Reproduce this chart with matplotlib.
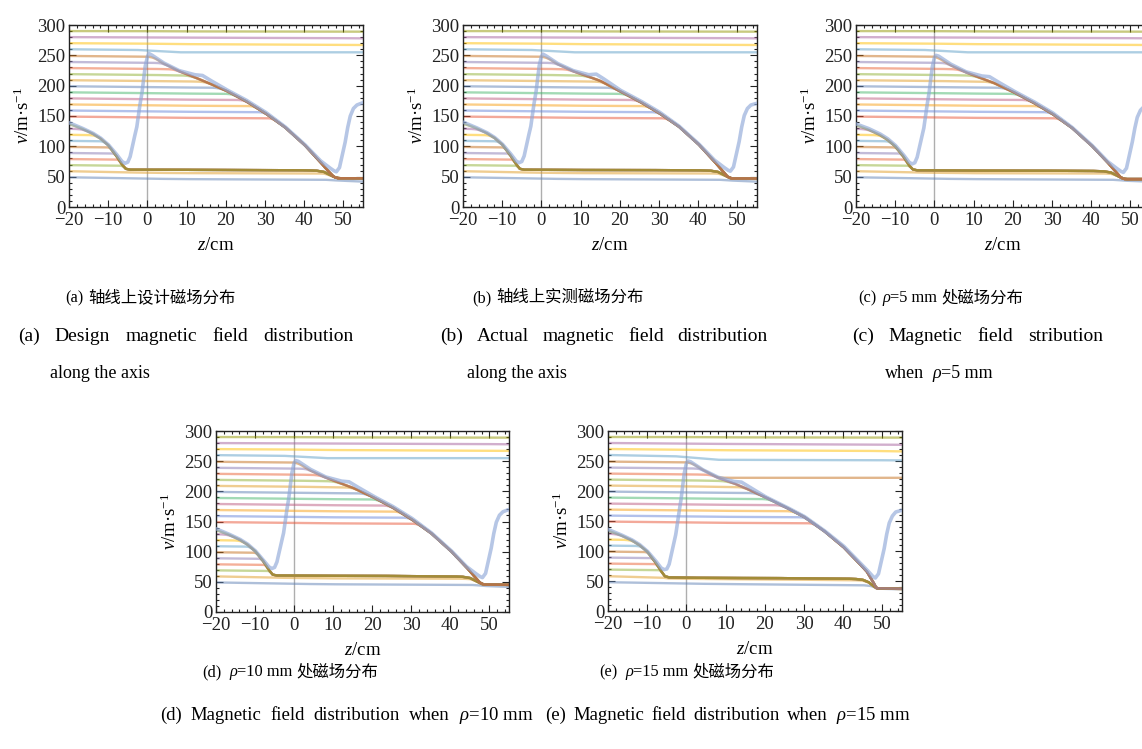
import numpy as np
import matplotlib
matplotlib.use("Agg")
import matplotlib.pyplot as plt
from matplotlib.ticker import MultipleLocator

plt.rcParams['font.family'] = ['Liberation Serif', 'Noto Sans CJK SC', 'DejaVu Sans']
plt.rcParams['mathtext.fontset'] = 'custom'
plt.rcParams['mathtext.rm'] = 'Liberation Serif'
plt.rcParams['mathtext.it'] = 'Liberation Serif:italic'

# ---------------- data ----------------
V0 = [50, 60, 70, 80, 90, 100, 110, 120, 130, 140, 150, 160, 170, 180, 190,
      200, 210, 220, 230, 240, 250, 260, 270, 280, 290]
LINE_COLORS = ['#5E81B5', '#E19C24', '#8FB032', '#EB6235', '#8778B3',
               '#C56E1A', '#5D9EC7', '#FFBF00', '#A5609D', '#929600',
               '#E95536', '#6685D9', '#F89F13', '#BC5B80', '#47B66D',
               '#5E81B5', '#E19C24', '#8FB032', '#EB6235', '#8778B3',
               '#C56E1A', '#5D9EC7', '#FFBF00', '#A5609D', '#929600']
FIRST_STAGE_MAX = 140   # initial speeds slowed by the first stage
CAPTURE_MAX = 250       # highest initial speed captured by the second stage

# resonance-velocity (field) profile, blue curve
PROF_Z = [-20, -17, -14, -12, -10, -8, -6.5, -5.7, -5, -4.4, -3.5, -2.7, -2, -1.4, -0.6,
          0, 0.4, 1, 4, 8, 12, 14, 15.5, 20, 25, 30, 35, 40, 44, 46, 47.5, 48.2, 49,
          49.7, 50.4, 51, 51.7, 52.5, 53.4, 55]
PROF_A = [139, 131, 122, 114, 103, 88, 75, 72, 74, 83, 110, 132, 165, 187, 231,
          248, 253, 251, 238, 225, 218, 217, 211, 194, 177, 157, 133, 104, 77, 67, 60, 58, 65,
          85, 105, 128, 149, 162, 168, 172]
PROF_B = [140, 132, 123, 115, 104, 89, 76, 73, 75, 84, 111, 133, 166, 188, 232,
          248, 252, 250, 237, 225, 218, 219, 213, 193, 176, 157, 134, 105, 78, 68, 61, 59, 66,
          86, 106, 129, 150, 162, 168, 171]
PROF_C = [137, 130, 121, 113, 102, 87, 74, 71, 73, 82, 108, 130, 163, 186, 229,
          246, 250, 249, 236, 223, 216, 215, 209, 192, 175, 156, 132, 103, 76, 66, 59, 57, 64,
          84, 104, 126, 147, 159, 165, 169]
PROF_D = [138, 130, 121, 113, 102, 87, 75, 72, 74, 83, 109, 131, 164, 187, 230,
          247, 251, 250, 237, 224, 217, 216, 210, 193, 176, 156, 132, 103, 76, 66, 59, 57, 64,
          84, 104, 127, 148, 160, 166, 170]
PROF_E = [136, 128, 119, 111, 100, 85, 72, 69, 70, 78, 104, 128, 160, 184, 228,
          246, 250, 249, 236, 223, 216, 215, 209, 191, 175, 158, 135, 109, 82, 69, 58, 55, 62,
          82, 102, 125, 146, 158, 165, 168]

# path followed by slow atoms (first stage + plateau + end)
LOW_Z = [-20, -17, -14, -12, -10, -8, -6.5, -5.5, -4.5, 0, 10, 20, 30, 40, 43, 45, 46.5, 48, 49, 55]
LOW_A = [137, 130, 121, 113, 102, 85, 70, 63, 61.5, 61.5, 61.3, 61, 61, 60.5, 60, 58, 53, 48.5, 47.5, 47.5]
LOW_B = [138, 131, 122, 114, 103, 86, 71, 63, 61.5, 61.3, 61, 61, 60.8, 60.5, 60, 58, 53, 48, 47, 47]
LOW_C = [135, 128, 119, 111, 100, 84, 69, 62, 60.5, 60.3, 60, 60, 59.8, 59.5, 59, 57, 52, 47, 46, 46]
LOW_D = [136, 129, 120, 112, 101, 85, 70, 62, 60.5, 60.3, 60, 60, 59.5, 59, 58.5, 56.5, 51.5, 46.5, 45.5, 45]
LOW_E = [134, 127, 118, 110, 99, 82, 67, 58, 56, 55.5, 55, 55, 54.5, 54, 53.5, 52, 48, 40, 37.5, 37]

# path followed by fast captured atoms (second stage)
UP_Z = [-20, 0.0, 0.5, 2, 4, 8, 12, 15, 20, 25, 30, 35, 40, 44, 46, 47.5, 48.5, 55]
UP_A = [400, 400, 251, 245, 237, 224, 214, 206, 192, 175, 155, 132, 103, 75, 60, 50, 47.5, 47.5]
UP_B = [400, 400, 250, 244, 236, 224, 215, 208, 191, 174, 155, 133, 104, 76, 61, 50, 47, 47]
UP_C = [400, 400, 248, 242, 234, 222, 212, 205, 190, 173, 154, 131, 102, 75, 60, 49, 46, 46]
UP_D = [400, 400, 249, 243, 235, 223, 213, 206, 191, 174, 154, 131, 102, 75, 60, 49, 45.5, 45]
UP_E = [400, 400, 250, 244, 236, 222, 213, 205, 190, 174, 157, 134, 107, 80, 66, 50, 38, 37]

# slow drift of the free-flight parts (velocity loss at z nodes)
DRIFT_Z = [-20, -3, 8, 45, 55]
DRIFT_DEFAULT = [1, 2, 3, 4, 5]
DRIFT_ABCD = {50: [1, 3, 4, 5, 8], 60: [1, 3, 4, 4.5, 12], 260: [0, 1, 5, 5, 5],
              270: [0, 0.5, 1.5, 2.5, 3], 280: [0, 0.5, 1, 1.5, 2], 290: [0, 0, 0.5, 1, 1]}
DRIFT_E = {50: [2, 4, 5, 7, 12], 60: [2, 5, 6, 8, 22], 260: [0, 2, 8, 8.5, 9],
           270: [0, 1, 2, 3, 4], 280: [0, 1, 1.5, 2.5, 3], 290: [0, 0, 0.5, 1, 1]}
LOST_E = {250: 222}

X_TICKS = [-20, -10, 0, 10, 20, 30, 40, 50]
Y_TICKS = [0, 50, 100, 150, 200, 250, 300]

# captions: runs of (text, italic, gap before in px)
ROW1 = [[("(a)", False, 0), ("轴线上设计磁场分布", False, 5)],
        [("(b)", False, 0), ("轴线上实测磁场分布", False, 5)],
        [("(c)", False, 0), ("ρ", True, 6), ("=5 mm", False, 0), ("处磁场分布", False, 4)]]
ROW2 = [["(a)", "Design", "magnetic", "field", "distribution"],
        ["(b)", "Actual", "magnetic", "field", "distribution"],
        ["(c)", "Magnetic", "field", "stribution"]]
ROW3 = [[("along the axis", False, 0)],
        [("along the axis", False, 0)],
        [("when", False, 0), ("ρ", True, 8), ("=5 mm", False, 0)]]
ROW4 = [[("(d)", False, 0), ("ρ", True, 8), ("=10 mm", False, 0), ("处磁场分布", False, 4)],
        [("(e)", False, 0), ("ρ", True, 8), ("=15 mm", False, 0), ("处磁场分布", False, 4)]]
ROW5 = [["(d)", "Magnetic", "field", "distribution", "when", r"$\rho$=10 mm"],
        ["(e)", "Magnetic", "field", "distribution", "when", r"$\rho$=15 mm"]]

# ---------------- figure ----------------
W, H = 1142, 749
fig = plt.figure(figsize=(W / 100, H / 100), dpi=100)
renderer = fig.canvas.get_renderer()


def ax_at(x0, y0, x1, y1):
    return fig.add_axes([x0 / W, 1 - y1 / H, (x1 - x0) / W, (y1 - y0) / H])


def softmin(a, b, k):
    return -k * np.logaddexp(-a / k, -b / k)


def softmax(a, b, k):
    return k * np.logaddexp(a / k, b / k)


PANELS = [
    dict(box=(69, 25, 363, 207), prof=PROF_A, low=LOW_A, up=UP_A, drift=DRIFT_ABCD, lost={}),
    dict(box=(463, 25, 757, 207), prof=PROF_B, low=LOW_B, up=UP_B, drift=DRIFT_ABCD, lost={}),
    dict(box=(856, 25, 1150, 207), prof=PROF_C, low=LOW_C, up=UP_C, drift=DRIFT_ABCD, lost={}),
    dict(box=(216, 431, 509, 612), prof=PROF_D, low=LOW_D, up=UP_D, drift=DRIFT_ABCD, lost={}),
    dict(box=(608, 431, 902, 611), prof=PROF_E, low=LOW_E, up=UP_E, drift=DRIFT_E, lost=LOST_E),
]

z = np.linspace(-20, 55, 1501)
for p in PANELS:
    ax = ax_at(*p['box'])
    ax.axvline(0, color='#8c8c8c', lw=1.0, alpha=0.7, zorder=1)
    for i, v in enumerate(V0):
        off = p['drift'].get(v, DRIFT_DEFAULT)
        traj = np.interp(z, DRIFT_Z, [v - o for o in off])
        if v <= FIRST_STAGE_MAX:
            traj = softmin(traj, np.interp(z, LOW_Z, p['low']), 2.0)
        elif v <= CAPTURE_MAX:
            traj = softmin(traj, np.interp(z, UP_Z, p['up']), 2.0)
        if v in p['lost']:
            traj = softmax(traj, p['lost'][v], 1.5)
        ax.plot(z, traj, color=LINE_COLORS[i], lw=1.7, alpha=0.5, zorder=2)
    ax.plot(z, np.interp(z, PROF_Z, p['prof']), color='#8FA8D8', lw=2.6,
            alpha=0.65, zorder=3, solid_capstyle='round')

    ax.set_xlim(-20, 55)
    ax.set_ylim(0, 300)
    ax.set_xticks(X_TICKS)
    ax.set_yticks(Y_TICKS)
    ax.xaxis.set_minor_locator(MultipleLocator(2))
    ax.yaxis.set_minor_locator(MultipleLocator(10))
    ax.tick_params(which='both', direction='in', top=True, right=True,
                   labelsize=13.5, width=0.8, colors='#222222')
    ax.tick_params(axis='x', pad=3.5)
    ax.tick_params(axis='y', pad=2.5)
    ax.tick_params(which='major', length=5)
    ax.tick_params(which='minor', length=2.5)
    for s in ax.spines.values():
        s.set_linewidth(1.0)
        s.set_color('#222222')
    ax.set_xlabel(r"$z$/cm", fontsize=13.5, labelpad=6)
    ax.set_ylabel(r"$v$/m·s$^{-1}$", fontsize=13.5, labelpad=3)


# ---------------- captions ----------------
def place_runs(runs, x0, y, fs):
    x = x0
    for txt, ital, gap in runs:
        x += gap
        t = fig.text(x / W, 1 - y / H, txt, ha='left', va='center', fontsize=fs,
                     fontstyle='italic' if ital else 'normal')
        x += t.get_window_extent(renderer).width


def justify(words, x0, x1, y, fs):
    ts = [fig.text(0, 1 - y / H, w, ha='left', va='center', fontsize=fs) for w in words]
    ws = [t.get_window_extent(renderer).width for t in ts]
    gap = (x1 - x0 - sum(ws)) / (len(ws) - 1)
    x = x0
    for t, w in zip(ts, ws):
        t.set_x(x / W)
        x += w + gap


for runs, xl in zip(ROW1, [65, 472, 858]):
    place_runs(runs, xl, 298, 11.8)
for words, (xl, xr) in zip(ROW2, [(18, 353), (440, 768), (852, 1103)]):
    justify(words, xl, xr, 336, 14)
for runs, xl in zip(ROW3, [50, 467, 885]):
    place_runs(runs, xl, 373, 13)
for runs, xl in zip(ROW4, [202, 599]):
    place_runs(runs, xl, 672, 11.8)
for words, (xl, xr) in zip(ROW5, [(160, 533), (545, 910)]):
    justify(words, xl, xr, 715, 13.5)

fig.savefig("out.png", dpi=100)
